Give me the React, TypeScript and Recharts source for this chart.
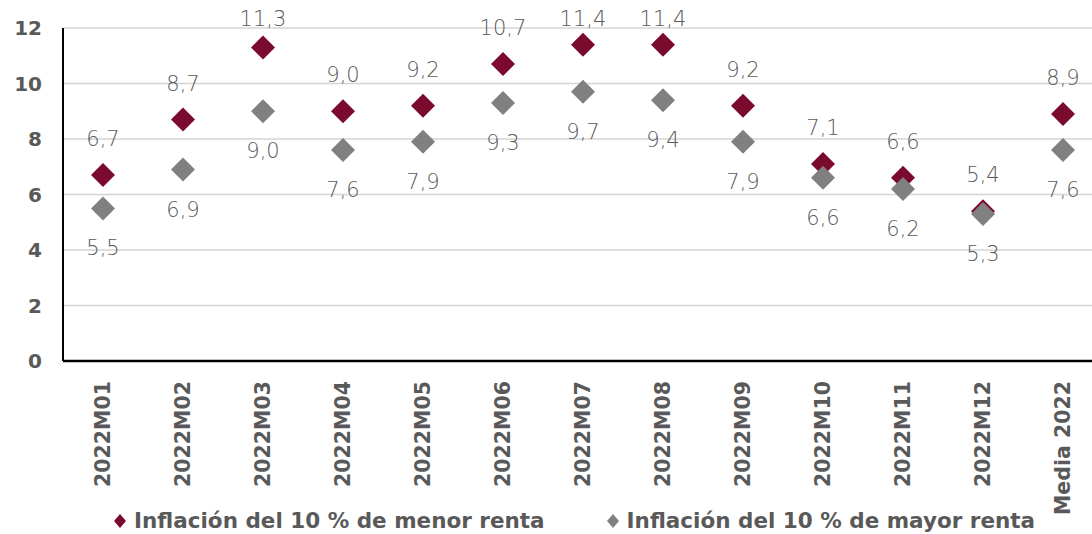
import {
  ComposedChart,
  Line,
  XAxis,
  YAxis,
  CartesianGrid,
  LabelList,
  Legend,
} from "recharts";

const categories = [
  "2022M01",
  "2022M02",
  "2022M03",
  "2022M04",
  "2022M05",
  "2022M06",
  "2022M07",
  "2022M08",
  "2022M09",
  "2022M10",
  "2022M11",
  "2022M12",
  "Media 2022",
];

const lowIncome = [6.7, 8.7, 11.3, 9.0, 9.2, 10.7, 11.4, 11.4, 9.2, 7.1, 6.6, 5.4, 8.9];
const highIncome = [5.5, 6.9, 9.0, 7.6, 7.9, 9.3, 9.7, 9.4, 7.9, 6.6, 6.2, 5.3, 7.6];

const yTicks = [0, 2, 4, 6, 8, 10, 12];

const LOW_NAME = "Inflación del 10 % de menor renta";
const HIGH_NAME = "Inflación del 10 % de mayor renta";

const RED = "#7a0a2e";
const GREY = "#808080";
const TEXT = "#595959";

const data = categories.map((c, i) => ({
  name: c,
  low: lowIncome[i],
  high: highIncome[i],
}));

const fmt = (v: number) => v.toFixed(1).replace(".", ",");

const diamond = (color: string) => (props: any) => {
  const { cx, cy, index } = props;
  if (cx == null || cy == null) return <g key={index} />;
  const r = 12;
  return (
    <path
      key={index}
      d={`M${cx},${cy - r} L${cx + r},${cy} L${cx},${cy + r} L${cx - r},${cy} Z`}
      fill={color}
    />
  );
};

// labels above the top of the plot get pushed back inside, like Excel does
const valueLabel = (dy: number) => (props: any) => {
  const { x, y, value, index } = props;
  const ly = Math.max(y + dy, 19);
  return (
    <text
      key={index}
      x={x}
      y={ly}
      textAnchor="middle"
      dominantBaseline="central"
      fill={TEXT}
      fontSize={21}
      fontWeight={300}
      fontFamily="DejaVu Sans, sans-serif"
    >
      {fmt(value)}
    </text>
  );
};

const XTick = (props: any) => {
  const { x, y, payload } = props;
  return (
    <g transform={`translate(${x},${y})`}>
      <text
        transform="rotate(-90)"
        x={-12}
        y={0}
        textAnchor="end"
        dominantBaseline="central"
        fill={TEXT}
        fontSize={20.5}
        fontWeight={700}
        fontFamily="DejaVu Sans, sans-serif"
      >
        {payload.value}
      </text>
    </g>
  );
};

const LegendContent = () => (
  <div
    style={{
      display: "flex",
      fontFamily: "DejaVu Sans, sans-serif",
      fontWeight: 700,
      fontSize: 21.5,
      color: TEXT,
      paddingLeft: 112,
      lineHeight: "30px",
      marginTop: 2,
    }}
  >
    <span style={{ display: "flex", alignItems: "center", marginRight: 60 }}>
      <svg width={16} height={16} style={{ marginRight: 6 }}>
        <path d="M8,1 L14,8 L8,15 L2,8 Z" fill={RED} />
      </svg>
      {LOW_NAME}
    </span>
    <span style={{ display: "flex", alignItems: "center" }}>
      <svg width={16} height={16} style={{ marginRight: 6 }}>
        <path d="M8,1 L14,8 L8,15 L2,8 Z" fill={GREY} />
      </svg>
      {HIGH_NAME}
    </span>
  </div>
);

export default function App() {
  return (
    <div
      style={{
        position: "absolute",
        left: 0,
        top: 0,
        width: 1092,
        height: 534,
        overflow: "hidden",
        background: "#fff",
      }}
    >
      <ComposedChart
        width={1103}
        height={534}
        data={data}
        margin={{ top: 28, right: 0, bottom: 0, left: 0 }}
      >
        <CartesianGrid vertical={false} stroke="#d4d4d4" strokeWidth={1.5} />
        <XAxis
          dataKey="name"
          interval={0}
          height={143}
          padding={{ left: 40, right: 40 }}
          tick={<XTick />}
          tickLine={false}
          axisLine={{ stroke: "#000", strokeWidth: 2.5 }}
        />
        <YAxis
          domain={[0, 12]}
          ticks={yTicks}
          width={63}
          tickLine={false}
          tickMargin={15}
          axisLine={{ stroke: "#000", strokeWidth: 2 }}
          tick={{
            fill: TEXT,
            fontSize: 20,
            fontWeight: 700,
            fontFamily: "DejaVu Sans, sans-serif",
          }}
        />
        <Legend verticalAlign="bottom" height={30} content={<LegendContent />} />
        <Line
          dataKey="low"
          name={LOW_NAME}
          stroke="none"
          dot={diamond(RED)}
          activeDot={false}
          isAnimationActive={false}
        >
          <LabelList dataKey="low" content={valueLabel(-36)} />
        </Line>
        <Line
          dataKey="high"
          name={HIGH_NAME}
          stroke="none"
          dot={diamond(GREY)}
          activeDot={false}
          isAnimationActive={false}
        >
          <LabelList dataKey="high" content={valueLabel(40)} />
        </Line>
      </ComposedChart>
    </div>
  );
}
